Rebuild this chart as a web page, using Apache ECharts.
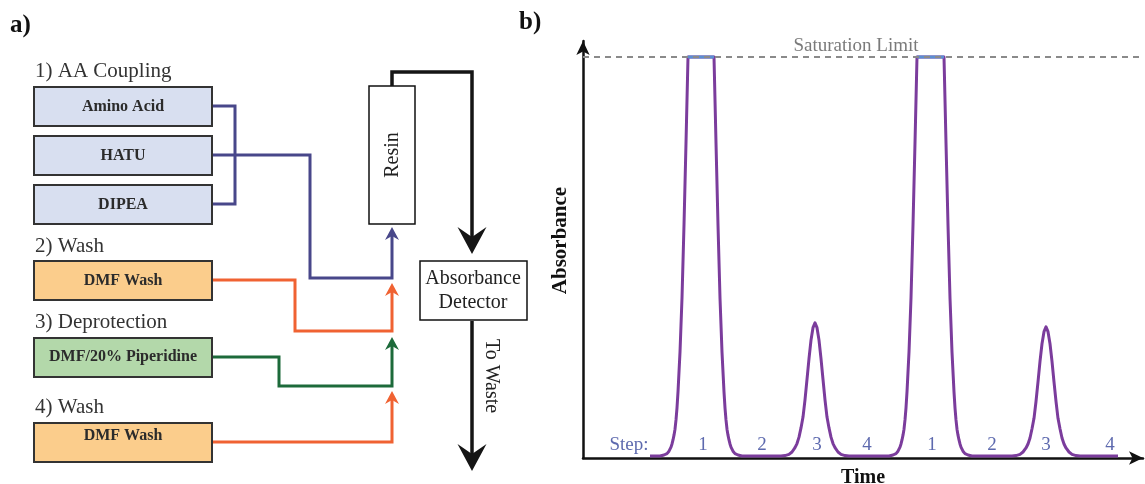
<!DOCTYPE html>
<html>
<head>
<meta charset="utf-8">
<script src="https://cdn.jsdelivr.net/npm/echarts@6/dist/echarts.min.js"></script>
<style>
  html, body { margin: 0; padding: 0; background: #ffffff; }
  #chart { width: 1145px; height: 484px; }
</style>
</head>
<body>
<div id="chart"></div>
<script>
// ---- Panel b: absorbance trace (time in arbitrary units, absorbance relative to the saturation limit)
const traceTime = [
  // step 1 (saturated) and step 2
  13.4, 15.4, 16.2, 16.8, 17.2, 17.6, 17.8, 18.0, 18.2, 18.4, 18.6, 18.8, 19.0, 19.4, 19.8, 20.2, 20.6, 21.0,
  26.2, 26.6, 27.0, 27.4, 27.8, 28.2, 28.4, 28.6, 28.8, 29.0, 29.2, 29.4, 29.6, 30.0, 30.4, 31.0, 31.8,
  // step 3 and step 4
  39.6, 40.4, 41.2, 41.8, 42.4, 42.8, 43.2, 43.6, 44.0, 44.4, 44.8, 45.2, 45.6, 46.0, 46.4, 46.8, 47.2, 47.6,
  48.0, 48.4, 48.8, 49.2, 49.6, 50.0, 50.4, 51.0, 51.6, 52.4, 53.2,
  // second cycle, step 1 (saturated) and step 2
  61.2, 62.0, 62.6, 63.0, 63.4, 63.6, 63.8, 64.0, 64.2, 64.4, 64.6, 64.8, 65.2, 65.6, 66.0, 66.4, 66.8,
  72.2, 72.6, 73.0, 73.4, 73.8, 74.2, 74.4, 74.6, 74.8, 75.0, 75.2, 75.4, 75.6, 76.0, 76.4, 77.0, 77.8,
  // second cycle, step 3 and step 4
  85.8, 86.6, 87.4, 88.0, 88.6, 89.0, 89.4, 89.8, 90.2, 90.6, 91.0, 91.4, 91.8, 92.2, 92.6, 93.0, 93.4, 93.8,
  94.2, 94.6, 95.0, 95.4, 95.8, 96.2, 96.6, 97.2, 97.8, 98.6, 99.4,
  107.0
];
const traceAbs = [
  0.005, 0.005, 0.0075, 0.011, 0.017, 0.027, 0.035, 0.045, 0.057, 0.072, 0.095, 0.125, 0.165, 0.264, 0.399, 0.581, 0.786, 1.0,
  1.0, 0.786, 0.581, 0.399, 0.264, 0.165, 0.125, 0.095, 0.072, 0.057, 0.045, 0.035, 0.027, 0.017, 0.011, 0.0075, 0.005,
  0.005, 0.006, 0.009, 0.015, 0.026, 0.036, 0.052, 0.075, 0.102, 0.145, 0.196, 0.248, 0.294, 0.325, 0.337, 0.325, 0.294, 0.248,
  0.196, 0.145, 0.102, 0.075, 0.052, 0.036, 0.026, 0.015, 0.009, 0.006, 0.005,
  0.005, 0.0075, 0.011, 0.017, 0.027, 0.035, 0.045, 0.057, 0.072, 0.095, 0.125, 0.165, 0.264, 0.399, 0.581, 0.786, 1.0,
  1.0, 0.786, 0.581, 0.399, 0.264, 0.165, 0.125, 0.095, 0.072, 0.057, 0.045, 0.035, 0.027, 0.017, 0.011, 0.0075, 0.005,
  0.005, 0.006, 0.009, 0.015, 0.025, 0.035, 0.050, 0.073, 0.099, 0.141, 0.190, 0.241, 0.285, 0.315, 0.327, 0.315, 0.285, 0.241,
  0.190, 0.141, 0.099, 0.073, 0.050, 0.035, 0.025, 0.015, 0.009, 0.006, 0.005,
  0.005
];
// Time spans where the detector sits at the saturation limit
const clippedStart = [21.0, 66.8];
const clippedEnd = [26.2, 72.2];
const saturationLevel = 1.0;

// Step numbers written under the trace
const stepNames = ['1', '2', '3', '4', '1', '2', '3', '4'];
const stepTime = [24.0, 35.8, 46.8, 56.8, 69.8, 81.8, 92.6, 105.4];
const stepLead = 'Step:';
const stepLeadTime = 9.2;

// ---- Panel a: synthesis cycle
const stageTitles = ['1) AA Coupling', '2) Wash', '3) Deprotection', '4) Wash'];
const couplingReagents = ['Amino Acid', 'HATU', 'DIPEA'];
const washReagent = 'DMF Wash';
const deprotectReagent = 'DMF/20% Piperidine';

const SERIF = "'Liberation Serif', 'DejaVu Serif', serif";
const COL = {
  ink: '#2b2b2b',
  coupleFill: '#d8dff0',
  washFill: '#fbcd8c',
  deprotFill: '#b3d8aa',
  couple: '#48478a',
  wash: '#f06232',
  deprot: '#1c6a3a',
  black: '#151515',
  trace: '#7b3c9c',
  clip: '#5b8ed2',
  step: '#34449a',
  sat: '#8a8a8a'
};

const G = [];
function box(x, y, w, h, fill, stroke, lw) {
  G.push({ type: 'rect', shape: { x: x, y: y, width: w, height: h },
           style: { fill: fill, stroke: stroke, lineWidth: lw } });
}
function label(x, y, str, font, color, align, rot) {
  G.push({ type: 'text', x: x, y: y, rotation: rot || 0,
           style: { text: str, font: font, fill: color,
                    align: align || 'center', verticalAlign: 'middle',
                    textAlign: align || 'center', textVerticalAlign: 'middle' } });
}
function pipe(points, color, lw) {
  G.push({ type: 'polyline', shape: { points: points },
           style: { stroke: color, lineWidth: lw, fill: null, lineJoin: 'miter', lineCap: 'butt' } });
}
// arrowhead with a notched back; dir = -1 points up, +1 points down
function head(x, tipY, w, h, notch, dir, color) {
  G.push({ type: 'polygon', shape: { points: [
      [x, tipY], [x + w / 2, tipY - dir * h], [x, tipY - dir * (h - notch)], [x - w / 2, tipY - dir * h]
    ] }, style: { fill: color } });
}

// panel labels
label(10, 26, 'a)', 'bold 25px ' + SERIF, '#111', 'left');
label(519, 23, 'b)', 'bold 25px ' + SERIF, '#111', 'left');

// stage titles
const titleFont = '21px ' + SERIF;
label(35, 71, stageTitles[0], titleFont, '#333', 'left');
label(35, 246, stageTitles[1], titleFont, '#333', 'left');
label(35, 322, stageTitles[2], titleFont, '#333', 'left');
label(35, 407, stageTitles[3], titleFont, '#333', 'left');

// reagent boxes
const boxFont = 'bold 16px ' + SERIF;
const bx = 34, bw = 178, bh = 39;
[87, 136, 185].forEach(function (y, i) {
  box(bx, y, bw, bh, COL.coupleFill, '#333', 2);
  label(bx + bw / 2, y + 20, couplingReagents[i], boxFont, COL.ink);
});
box(bx, 261, bw, bh, COL.washFill, '#333', 2);
label(bx + bw / 2, 281, washReagent, boxFont, COL.ink);
box(bx, 338, bw, bh, COL.deprotFill, '#333', 2);
label(bx + bw / 2, 357, deprotectReagent, boxFont, COL.ink);
box(bx, 423, bw, bh, COL.washFill, '#333', 2);
label(bx + bw / 2, 436, washReagent, boxFont, COL.ink);

// coupling lines: the three reagents merge and run to the resin
pipe([[213, 106], [235, 106], [235, 204], [213, 204]], COL.couple, 3);
pipe([[213, 155], [310, 155], [310, 278], [392, 278], [392, 236]], COL.couple, 3);
head(392, 227, 14, 13, 4, -1, COL.couple);

// wash, deprotection and second wash lines
pipe([[213, 280], [295, 280], [295, 331], [392, 331], [392, 292]], COL.wash, 3);
head(392, 283, 14, 13, 4, -1, COL.wash);
pipe([[213, 357], [279, 357], [279, 386], [392, 386], [392, 346]], COL.deprot, 3);
head(392, 337, 14, 13, 4, -1, COL.deprot);
pipe([[213, 442], [392, 442], [392, 400]], COL.wash, 3);
head(392, 391, 14, 13, 4, -1, COL.wash);

// resin column
box(369, 86, 46, 138, '#ffffff', '#111', 1.5);
label(393, 155, 'Resin', '20px ' + SERIF, '#222', 'center', Math.PI / 2);

// outlet to the detector
pipe([[392, 86], [392, 72], [472, 72], [472, 240]], COL.black, 3.5);
head(472, 254, 29, 27, 10, 1, COL.black);

// absorbance detector
box(420, 261, 107, 59, '#ffffff', '#111', 1.5);
label(473, 279, 'Absorbance', '20px ' + SERIF, '#222');
label(473, 303, 'Detector', '20px ' + SERIF, '#222');

// to waste
pipe([[472, 321], [472, 456]], COL.black, 3.5);
head(472, 471, 29, 27, 10, 1, COL.black);
label(491, 376, 'To Waste', '20px ' + SERIF, '#222', 'center', -Math.PI / 2);

// ---- chart options
const traceData = traceTime.map(function (t, i) { return [t, traceAbs[i]]; });
const clipSeries = clippedStart.map(function (t0, i) {
  return {
    type: 'line', data: [[t0, saturationLevel], [clippedEnd[i], saturationLevel]],
    showSymbol: false, silent: true, z: 4,
    lineStyle: { color: COL.clip, width: 3 }
  };
});
const stepData = [{ value: [stepLeadTime, 0.032], name: stepLead }].concat(
  stepNames.map(function (n, i) { return { value: [stepTime[i], 0.032], name: n }; })
);

const chart = echarts.init(document.getElementById('chart'), null, { renderer: 'canvas' });
chart.setOption({
  backgroundColor: '#ffffff',
  animation: false,
  grid: { left: 583, top: 41, width: 560, height: 417, containLabel: false, outerBoundsMode: 'none' },
  xAxis: {
    type: 'value', min: 0, max: 112,
    name: 'Time', nameLocation: 'middle', nameGap: 10,
    nameTextStyle: { fontFamily: SERIF, fontWeight: 'bold', fontSize: 20, color: '#111' },
    axisLine: { show: true, symbol: ['none', 'arrow'], symbolSize: [10, 14],
                lineStyle: { color: '#111', width: 2.5 } },
    axisTick: { show: false }, axisLabel: { show: false }, splitLine: { show: false }
  },
  yAxis: {
    type: 'value', min: 0, max: 1.04,
    name: 'Absorbance', nameLocation: 'middle', nameGap: 12, nameRotate: 90,
    nameTextStyle: { fontFamily: SERIF, fontWeight: 'bold', fontSize: 21, color: '#111',
                     padding: [0, 0, 0, 18] },
    axisLine: { show: true, symbol: ['none', 'arrow'], symbolSize: [10, 14],
                lineStyle: { color: '#111', width: 2.5 } },
    axisTick: { show: false }, axisLabel: { show: false }, splitLine: { show: false }
  },
  series: [
    {
      type: 'line', data: traceData, showSymbol: false, smooth: false,
      z: 3, lineStyle: { color: COL.trace, width: 3, join: 'round' },
      markLine: {
        silent: true, symbol: 'none',
        lineStyle: { color: COL.sat, type: [6, 5], width: 2 },
        label: { show: true, position: 'insideMiddleTop', distance: 2, offset: [-7, 0],
                 formatter: 'Saturation Limit',
                 fontFamily: SERIF, fontSize: 19, color: '#7a7a7a' },
        data: [{ yAxis: saturationLevel }]
      }
    }
  ].concat(clipSeries).concat([
    {
      type: 'scatter', data: stepData, symbolSize: 1, silent: true, z: 5,
      itemStyle: { color: 'rgba(0,0,0,0)' },
      label: { show: true, position: 'inside', formatter: '{b}',
               fontFamily: SERIF, fontSize: 19, color: COL.step }
    }
  ]),
  graphic: { elements: G }
});
</script>
</body>
</html>
